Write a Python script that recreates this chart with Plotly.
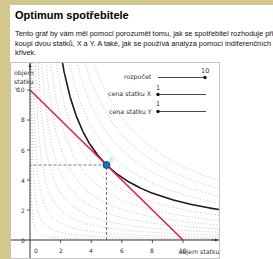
import numpy as np
import plotly.graph_objects as go

# ---------------- data ----------------
budget = 10
price_x = 1
price_y = 1
utility_levels = [0.5, 1, 1.5, 2, 2.5, 3, 3.5, 4, 4.5, 5.5, 6, 6.5, 7]
x_ticks = [2, 4, 6, 8, 10]
y_ticks = [0, 2, 4, 6, 8, 10]
slider_names = ["rozpočet", "cena statku X", "cena statku Y"]
slider_values = [10, 1, 1]
slider_min = [0, 1, 1]
slider_max = [10, 10, 10]
title = "Optimum spotřebitele"
paragraph = ["Tento graf by vám měl pomoci porozumět tomu, jak se spotřebitel rozhoduje při",
             "koupi dvou statků, X a Y. A také, jak se používá analýza pomocí indiferenčních",
             "křivek."]

W, H = 273, 259
def px(x):
    return x / W
def py(y):
    return 1 - y / H

# plot area in pixels
L, R, T, B = 11, 219, 63, 258
X0PX, Y0PX, SX, SY = 30, 240, 15.3, 15.0
xr = [(L - X0PX) / SX, (R - X0PX) / SX]
yr = [(Y0PX - B) / SY, (Y0PX - T) / SY]

fig = go.Figure()

xs = np.linspace(0.01, 13, 800)
for u in utility_levels:
    k = u * u
    fig.add_trace(go.Scatter(x=xs, y=k / xs, mode="lines",
                             line=dict(color="#c4c4c4", width=1, dash="1px,2px"),
                             hoverinfo="skip", showlegend=False))

# optimum
ox = budget / (2 * price_x)
oy = budget / (2 * price_y)
k0 = ox * oy
fig.add_trace(go.Scatter(x=xs, y=k0 / xs, mode="lines",
                         line=dict(color="#1a1a1a", width=1.6),
                         hoverinfo="skip", showlegend=False))
# budget line
fig.add_trace(go.Scatter(x=[0, budget / price_x], y=[budget / price_y, 0], mode="lines",
                         line=dict(color="#e3204f", width=1.6),
                         hoverinfo="skip", showlegend=False))
# dashed guides
fig.add_trace(go.Scatter(x=[ox, ox, 0], y=[0, oy, oy], mode="lines",
                         line=dict(color="#555555", width=0.8, dash="3px,2px"),
                         hoverinfo="skip", showlegend=False))
# point E
fig.add_trace(go.Scatter(x=[ox], y=[oy], mode="markers",
                         marker=dict(size=7, color="#1478b8", line=dict(color="#0b3d66", width=0.8)),
                         hoverinfo="skip", showlegend=False))
fig.add_trace(go.Scatter(x=[ox + 0.2], y=[oy + 0.3], mode="text", text=["E"],
                         textposition="middle right",
                         textfont=dict(size=7, color="#8fd0f0", family="DejaVu Sans"),
                         hoverinfo="skip", showlegend=False))
# x axis label (clipped at plot edge)
fig.add_trace(go.Scatter(x=[9.7], y=[-0.8], mode="text", text=["objem statku X"],
                         textposition="middle right",
                         textfont=dict(size=6.3, color="#333333", family="DejaVu Sans"),
                         hoverinfo="skip", showlegend=False, cliponaxis=True))

shapes = []
annotations = []
# page white area
shapes.append(dict(type="rect", xref="paper", yref="paper", x0=px(10), x1=px(W + 5),
                   y0=py(H + 5), y1=py(5), fillcolor="white", line=dict(width=0), layer="below"))
# axes
shapes.append(dict(type="line", xref="x", yref="y", x0=xr[0], x1=xr[1], y0=0, y1=0,
                   line=dict(color="#333333", width=1)))
shapes.append(dict(type="line", xref="x", yref="y", x0=0, x1=0, y0=yr[0], y1=yr[1],
                   line=dict(color="#333333", width=1)))
for t in x_ticks:
    shapes.append(dict(type="line", xref="x", yref="y", x0=t, x1=t, y0=0, y1=-0.2,
                       line=dict(color="#333333", width=0.8)))
    annotations.append(dict(x=t, y=-0.3, xref="x", yref="y", text=str(t), showarrow=False,
                            yanchor="top", xanchor="center",
                            font=dict(size=6, color="#333333", family="DejaVu Sans")))
annotations.append(dict(x=0.15, y=-0.3, xref="x", yref="y", text="0", showarrow=False,
                        xanchor="left", yanchor="top", font=dict(size=6, color="#333333", family="DejaVu Sans")))
for t in y_ticks:
    if t != 0:
        shapes.append(dict(type="line", xref="x", yref="y", x0=0, x1=-0.2, y0=t, y1=t,
                           line=dict(color="#333333", width=0.8)))
    annotations.append(dict(x=-0.22, y=t, xref="x", yref="y", text=str(t), showarrow=False,
                            xanchor="right", yanchor="middle",
                            font=dict(size=6, color="#333333", family="DejaVu Sans")))
# y axis label
for i, s in enumerate(["objem", "statku", "Y"]):
    annotations.append(dict(x=px(12), y=py(73 + 8.3 * i), xref="paper", yref="paper", text=s,
                            showarrow=False, xanchor="left", yanchor="middle",
                            font=dict(size=6.3, color="#333333", family="DejaVu Sans")))
# axis arrows
annotations.append(dict(x=0, y=yr[1] - 0.05, ax=0, ay=yr[1] - 0.6, xref="x", yref="y", axref="x", ayref="y",
                        showarrow=True, arrowhead=2, arrowsize=0.8, arrowwidth=0.8, arrowcolor="#333333", text=""))
annotations.append(dict(x=xr[1] - 0.05, y=0, ax=xr[1] - 0.6, ay=0, xref="x", yref="y", axref="x", ayref="y",
                        showarrow=True, arrowhead=2, arrowsize=0.8, arrowwidth=0.8, arrowcolor="#333333", text=""))

# sliders
row_y = [77.5, 94.5, 111.5]
sl0, sl1 = 158, 206
for name, v, lo, hi, yy in zip(slider_names, slider_values, slider_min, slider_max, row_y):
    shapes.append(dict(type="line", xref="paper", yref="paper", x0=px(sl0), x1=px(sl1),
                       y0=py(yy), y1=py(yy), line=dict(color="#333333", width=0.9)))
    dx = sl0 + (v - lo) / (hi - lo) * (sl1 - sl0 - 1)
    shapes.append(dict(type="circle", xref="paper", yref="paper", x0=px(dx - 1.7), x1=px(dx + 1.7),
                       y0=py(yy + 1.7), y1=py(yy - 1.7), fillcolor="#111111", line=dict(width=0)))
    annotations.append(dict(x=px(dx), y=py(yy - 7), xref="paper", yref="paper", text=str(v),
                            showarrow=False, xanchor="center", yanchor="middle",
                            font=dict(size=6.5, color="#333333", family="DejaVu Sans")))
    annotations.append(dict(x=px(154), y=py(yy - 0.5), xref="paper", yref="paper", text=name,
                            showarrow=False, xanchor="right", yanchor="middle",
                            font=dict(size=6.3, color="#333333", family="DejaVu Sans")))

# title and paragraph
annotations.append(dict(x=px(12.5), y=py(15), xref="paper", yref="paper", text="<b>" + title + "</b>",
                        showarrow=False, xanchor="left", yanchor="middle",
                        font=dict(size=11, color="#000000", family="Liberation Sans")))
for i, line in enumerate(paragraph):
    annotations.append(dict(x=px(12.5), y=py(34 + 9 * i), xref="paper", yref="paper", text=line,
                            showarrow=False, xanchor="left", yanchor="middle",
                            font=dict(size=7.4, color="#111111", family="Liberation Sans")))

fig.update_layout(
    width=W, height=H, margin=dict(l=0, r=0, t=0, b=0),
    paper_bgcolor="#d2c78c", plot_bgcolor="white",
    xaxis=dict(domain=[px(L), px(R)], range=xr, showgrid=False, zeroline=False,
               showticklabels=False, showline=True, mirror=True, linecolor="#c4c4c4", linewidth=1, fixedrange=True),
    yaxis=dict(domain=[py(B), py(T)], range=yr, showgrid=False, zeroline=False,
               showticklabels=False, showline=True, mirror=True, linecolor="#c4c4c4", linewidth=1, fixedrange=True),
    shapes=shapes, annotations=annotations, showlegend=False,
)
fig.write_html("out.html", config={"displayModeBar": False},
               post_script="document.body.style.margin='0';document.body.style.overflow='hidden';")
